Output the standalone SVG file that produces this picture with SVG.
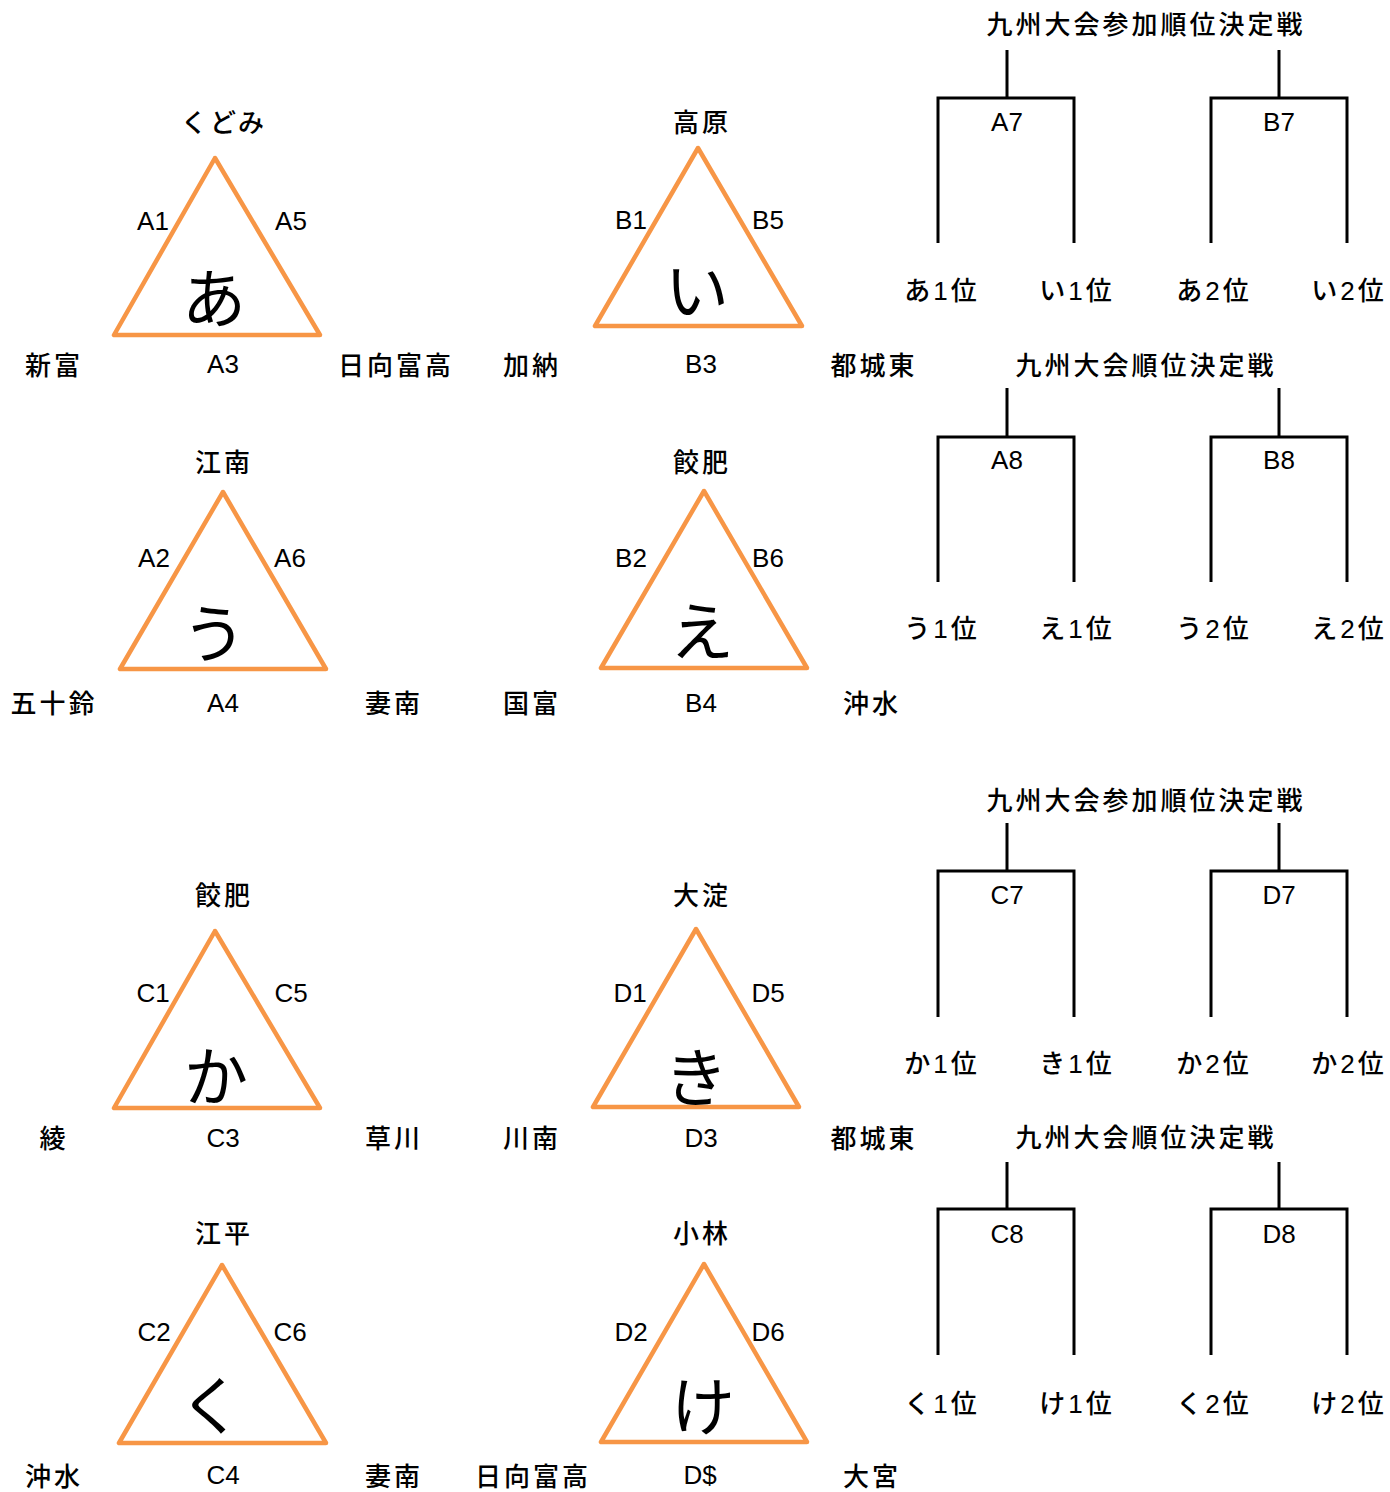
<svg xmlns="http://www.w3.org/2000/svg" width="1390" height="1492" viewBox="0 0 1390 1492">
<defs>
<style>
.tri{fill:none;stroke:#F79646;stroke-width:4.5;stroke-linejoin:round}
.br{fill:none;stroke:#000;stroke-width:3;stroke-linejoin:miter}
text{font-family:"Liberation Sans","Noto Sans CJK JP",sans-serif;fill:#000;text-anchor:middle;font-weight:500}
.t{font-size:26px;letter-spacing:3px}
.l{font-size:26px}
.big{font-family:"Noto Sans CJK JP",sans-serif;font-size:64px;font-weight:400}
</style>
</defs>
<rect width="1390" height="1492" fill="#fff"/>

<g id="group-a">
<polygon class="tri" points="215,158 114,335 320,335"/>
<text class="big" x="214" y="322">あ</text>
<text class="t" x="224" y="132">くどみ</text>
<text class="l" x="153" y="230">A1</text>
<text class="l" x="291" y="230">A5</text>
<text class="t" x="54" y="375">新富</text>
<text class="l" x="223" y="373">A3</text>
<text class="t" x="396" y="375">日向富高</text>
</g>

<g id="group-i">
<polygon class="tri" points="698,148 595,326 802,326"/>
<text class="big" x="697" y="314">い</text>
<text class="t" x="702" y="132">高原</text>
<text class="l" x="631" y="229">B1</text>
<text class="l" x="768" y="229">B5</text>
<text class="t" x="532" y="375">加納</text>
<text class="l" x="701" y="373">B3</text>
<text class="t" x="874" y="375">都城東</text>
</g>

<g id="group-u">
<polygon class="tri" points="223,492 120,669 326,669"/>
<text class="big" x="214" y="657">う</text>
<text class="t" x="224" y="472">江南</text>
<text class="l" x="154" y="567">A2</text>
<text class="l" x="290" y="567">A6</text>
<text class="t" x="54" y="713">五十鈴</text>
<text class="l" x="223" y="712">A4</text>
<text class="t" x="394" y="713">妻南</text>
</g>

<g id="group-e">
<polygon class="tri" points="704,491 601,668 807,668"/>
<text class="big" x="702" y="655">え</text>
<text class="t" x="702" y="472">餃肥</text>
<text class="l" x="631" y="567">B2</text>
<text class="l" x="768" y="567">B6</text>
<text class="t" x="532" y="713">国富</text>
<text class="l" x="701" y="712">B4</text>
<text class="t" x="872" y="713">沖水</text>
</g>

<g id="group-ka">
<polygon class="tri" points="215,931 114,1108 320,1108"/>
<text class="big" x="216" y="1100">か</text>
<text class="t" x="224" y="905">餃肥</text>
<text class="l" x="153" y="1002">C1</text>
<text class="l" x="291" y="1002">C5</text>
<text class="t" x="54" y="1148">綾</text>
<text class="l" x="223" y="1147">C3</text>
<text class="t" x="394" y="1148">草川</text>
</g>

<g id="group-ki">
<polygon class="tri" points="696,929 593,1107 799,1107"/>
<text class="big" x="696" y="1101">き</text>
<text class="t" x="702" y="905">大淀</text>
<text class="l" x="630" y="1002">D1</text>
<text class="l" x="768" y="1002">D5</text>
<text class="t" x="532" y="1148">川南</text>
<text class="l" x="701" y="1147">D3</text>
<text class="t" x="874" y="1148">都城東</text>
</g>

<g id="group-ku">
<polygon class="tri" points="222,1265 119,1443 326,1443"/>
<text class="big" x="211" y="1429">く</text>
<text class="t" x="224" y="1243">江平</text>
<text class="l" x="154" y="1341">C2</text>
<text class="l" x="290" y="1341">C6</text>
<text class="t" x="54" y="1486">沖水</text>
<text class="l" x="223" y="1484">C4</text>
<text class="t" x="394" y="1486">妻南</text>
</g>

<g id="group-ke">
<polygon class="tri" points="704,1264 601,1442 807,1442"/>
<text class="big" x="703" y="1430">け</text>
<text class="t" x="702" y="1243">小林</text>
<text class="l" x="631" y="1341">D2</text>
<text class="l" x="768" y="1341">D6</text>
<text class="t" x="533" y="1486">日向富高</text>
<text class="l" x="700" y="1484">D$</text>
<text class="t" x="872" y="1486">大宮</text>
</g>

<g id="connectors">
<path class="br" d="M938,243 V98 H1074 V243 M1007,98 V50"/>
<path class="br" d="M1211,243 V98 H1347 V243 M1279,98 V50"/>
<path class="br" d="M938,582 V437 H1074 V582 M1007,437 V388"/>
<path class="br" d="M1211,582 V437 H1347 V582 M1279,437 V388"/>
<path class="br" d="M938,1017 V871 H1074 V1017 M1007,871 V823"/>
<path class="br" d="M1211,1017 V871 H1347 V1017 M1279,871 V823"/>
<path class="br" d="M938,1355 V1209 H1074 V1355 M1007,1209 V1162"/>
<path class="br" d="M1211,1355 V1209 H1347 V1355 M1279,1209 V1162"/>
</g>

<g id="bracket-1">
<text class="t" x="1146" y="34">九州大会参加順位決定戦</text>
<text class="l" x="1007" y="131">A7</text>
<text class="l" x="1279" y="131">B7</text>
<text class="t" x="942" y="300">あ1位</text>
<text class="t" x="1077" y="300">い1位</text>
<text class="t" x="1214" y="300">あ2位</text>
<text class="t" x="1349" y="300">い2位</text>
</g>

<g id="bracket-2">
<text class="t" x="1146" y="375">九州大会順位決定戦</text>
<text class="l" x="1007" y="469">A8</text>
<text class="l" x="1279" y="469">B8</text>
<text class="t" x="942" y="638">う1位</text>
<text class="t" x="1077" y="638">え1位</text>
<text class="t" x="1214" y="638">う2位</text>
<text class="t" x="1349" y="638">え2位</text>
</g>

<g id="bracket-3">
<text class="t" x="1146" y="810">九州大会参加順位決定戦</text>
<text class="l" x="1007" y="904">C7</text>
<text class="l" x="1279" y="904">D7</text>
<text class="t" x="942" y="1073">か1位</text>
<text class="t" x="1077" y="1073">き1位</text>
<text class="t" x="1214" y="1073">か2位</text>
<text class="t" x="1349" y="1073">か2位</text>
</g>

<g id="bracket-4">
<text class="t" x="1146" y="1147">九州大会順位決定戦</text>
<text class="l" x="1007" y="1243">C8</text>
<text class="l" x="1279" y="1243">D8</text>
<text class="t" x="942" y="1413">く1位</text>
<text class="t" x="1077" y="1413">け1位</text>
<text class="t" x="1214" y="1413">く2位</text>
<text class="t" x="1349" y="1413">け2位</text>
</g>
</svg>
